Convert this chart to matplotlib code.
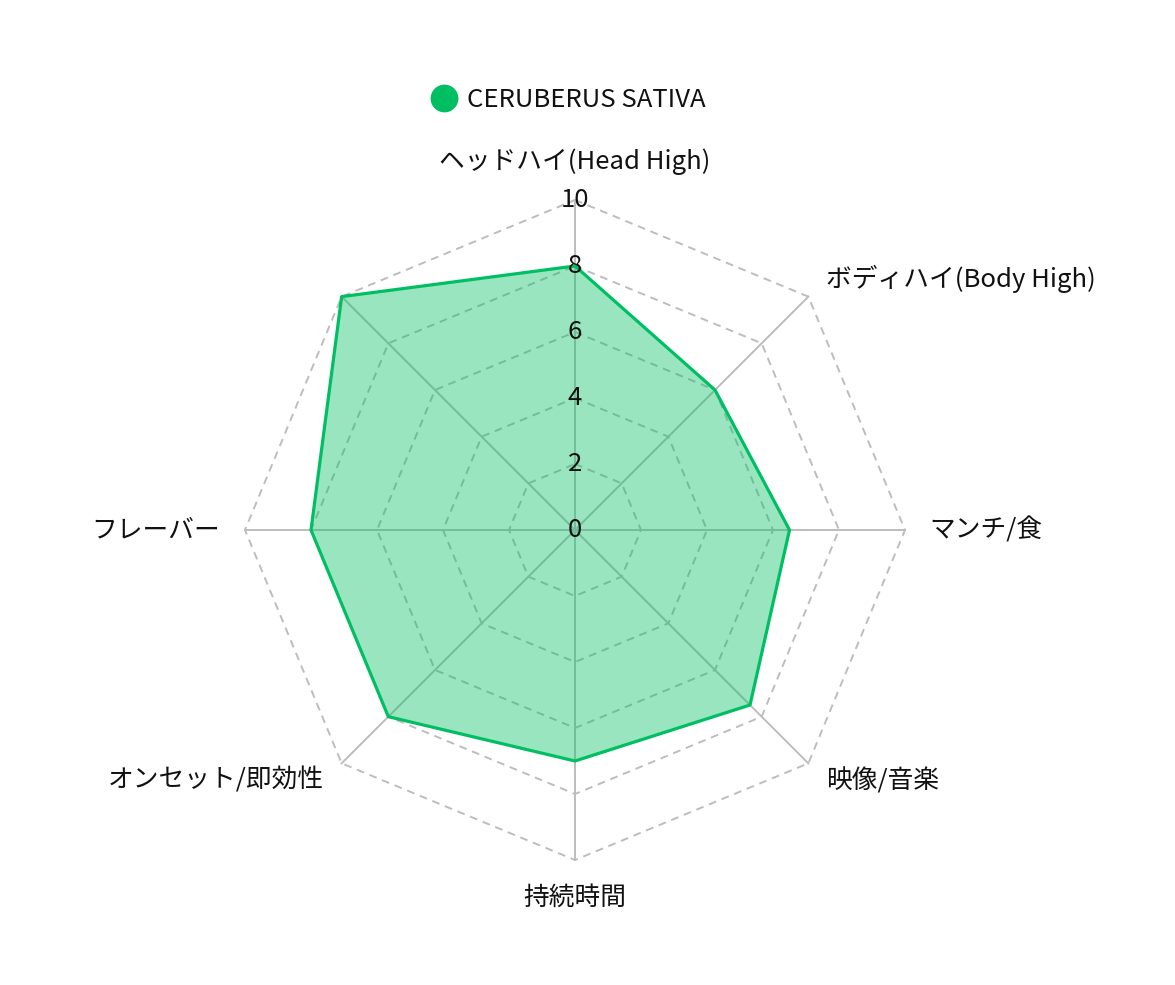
import numpy as np
import matplotlib
matplotlib.use("Agg")
import matplotlib.pyplot as plt
from matplotlib.lines import Line2D

plt.rcParams['font.family'] = ['Noto Sans CJK JP', 'DejaVu Sans']

# ── data ───────────────────────────────────────────────
labels = ["ヘッドハイ(Head High)", "ボディハイ(Body High)", "マンチ/食", "映像/音楽",
          "持続時間", "オンセット/即効性", "フレーバー", ""]
values = [8, 6, 6.5, 7.5, 7, 8, 8, 10]
ticks = [0, 2, 4, 6, 8, 10]
series_name = "CERUBERUS SATIVA"

GREEN = "#00BF63"
GRID = "#bdbdbd"
TXT = "#111111"
FS = 18.5
R_MAX = 10
PX = 33.0  # pixels per unit

fig = plt.figure(figsize=(11.75, 9.85), dpi=100)
ax = fig.add_axes([0, 0, 1, 1])
ax.set_xlim(-575 / PX, (1175 - 575) / PX)
ax.set_ylim(-455 / PX, 530 / PX)
ax.axis("off")

n = len(labels)
ang = np.pi / 2 - np.arange(n) * 2 * np.pi / n
cx, sy = np.cos(ang), np.sin(ang)

# polygon grid rings
for t in ticks[1:]:
    xs = np.append(t * cx, t * cx[0])
    ys = np.append(t * sy, t * sy[0])
    ax.plot(xs, ys, color=GRID, lw=1.4, ls=(0, (4, 3)), zorder=1)

# spokes
for i in range(n):
    ax.plot([0, R_MAX * cx[i]], [0, R_MAX * sy[i]], color=GRID, lw=1.4, zorder=1)

# data
v = np.array(values)
px = np.append(v * cx, v[0] * cx[0])
py = np.append(v * sy, v[0] * sy[0])
ax.fill(px, py, color=GREEN, alpha=0.4, lw=0, zorder=2)
ax.plot(px, py, color=GREEN, lw=2.3, zorder=3)

# tick labels
for t in ticks:
    ax.text(0, t, str(t), ha="center", va="center", fontsize=FS, color=TXT, zorder=4)

# point labels
lr = R_MAX + 0.75
for i, lab in enumerate(labels):
    x, y = lr * cx[i], lr * sy[i]
    if abs(cx[i]) < 1e-6:
        ha = "center"
        va = "bottom" if sy[i] > 0 else "top"
    else:
        ha = "left" if cx[i] > 0 else "right"
        va = "center"
    ax.text(x, y, lab, ha=ha, va=va, fontsize=FS, color=TXT)

# legend
handle = Line2D([], [], marker="o", ls="", markersize=19, color=GREEN)
fig.legend([handle], [series_name], loc="center", bbox_to_anchor=(568 / 1175, 1 - 100 / 985),
           frameon=False, fontsize=FS, handletextpad=0.4, handlelength=1.0,
           labelcolor=TXT)

fig.savefig("out.png", dpi=100)
